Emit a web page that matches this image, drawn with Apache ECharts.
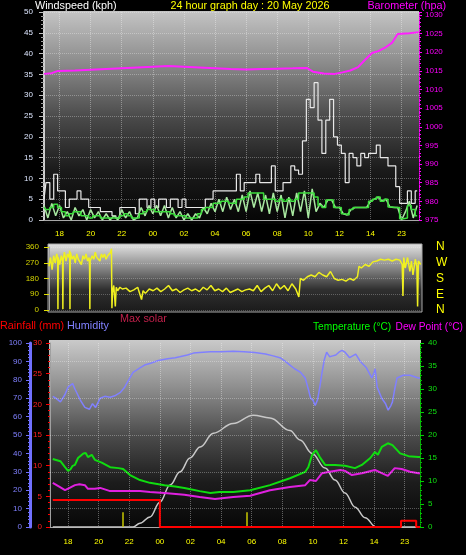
<!DOCTYPE html>
<html><head><meta charset="utf-8">
<script src="https://cdn.jsdelivr.net/npm/echarts@6/dist/echarts.min.js"></script>
<style>html,body{margin:0;padding:0;background:#000;}#c{width:466px;height:555px;}</style>
</head><body><div id="c"></div>
<script>
// ---------- tick labels ----------
const tickHours = [18,20,22,24,26,28,30,32,34,36,38,40];
const tickLabels = ['18','20','22','00','02','04','06','08','10','12','14','23'];
const compassLabels = ['N','E','S','W','N'];

// ---------- wind (kph), sampled every 15 min from 17:00 ----------
const windStart = 17, windStep = 0.25;
const gustValues = [5,9,5,11,7,7,3,5,5,7, 5,5,3,3,3,2,2,2,1,0.5, 3,3,3,3,1.5,5,5,3,5,3, 5,5,3,5,5,3,5,3,3,3,
  3,3,5,5,7,7,7,7,7,7, 11,7,9,9,9,11,9,9,9,13, 7,7,9,9,13,12,11,19,29,27, 33,24,16,24,29,20,18,16,9,16,
  15,13,16,15,16,16,18,15,15,13, 13,8,4,4,7,4,7];
const speedValues = [3.5,0.5,4,1,3.5,0.5,2,0,3,1, 2.5,0,2.5,0.5,2,0,1.5,0,1,0, 2.5,0.5,2,0,0.5,3,1,3.5,1.5,3.5,
  1,3.5,0.5,3,0.5,2,0,1.5,0,1.5, 0.5,3,1.5,4,2,5,2,5.5,2.5,5, 2,6,2,7,3,6.5,2,6,1.5,6.5, 2,6,0.5,5.5,1,6.5,2,7,0.5,7.5,
  2,4,3,4.8,4.8,3,3,1.5,1.2,2.5, 3,3,3,3,4.5,5,5.5,4.5,5,3.1, 3,3,0,2,4.5,0.5,3.5];
const avgValues = [3,2.5,3,3.8,3,2,1,1.5,2,2, 1,1,0.5,1,1,0.5,0.5,0.5,0.5,0.5, 1,1.5,1,0.5,0.5,1.5,2,2.5,2.5,2,
  2,2,2,1.5,1,1,1,0.5,0.5,0.5, 1.5,2.5,3,3,4,4,4.5,4.5,4,4, 5,5,5.5,6.5,6.5,6.5,6.5,5,5,5, 4.5,5,4.5,5,4.5,5,6.5,6.5,6.5,6.5,
  5.5,3.5,3,4.8,4.8,3,3,1.5,1.2,2.5, 3,3,3,3,4.5,5,5.5,4.5,5,3.1, 3,3,0.3,0.5,3.5,2.5,1];

// ---------- barometer (hpa) ----------
const baroTimes = [17.0,17.5,17.9,19,20,21,22,23,24,25,26,27,28,29,30,31,32,33,33.9,34.3,35,35.7,36.2,36.7,37.2,37.7,38.1,38.5,39.0,39.4,39.75,40.5,41.1];
const baroValues = [1014.2,1014.4,1015.0,1015.1,1015.3,1015.5,1015.7,1015.9,1016.1,1016.3,1016.1,1015.9,1015.7,1015.5,1015.4,1015.5,1015.6,1015.7,1015.8,1014.8,1014.3,1014.2,1014.6,1015.1,1016.0,1018.2,1019.8,1020.3,1021.4,1022.6,1024.9,1025.1,1025.4];

// ---------- wind direction (deg) ----------
const dirTimes = [17.0,17.1,17.2,17.3,17.4,17.5,17.56,17.58,17.6,17.7,17.8,17.88,17.9,17.92,18.0,18.1,18.2,18.3,18.34,18.36,18.38,18.5,18.6,18.7,18.8,18.9,
  19.0,19.1,19.2,19.3,19.4,19.5,19.6,19.63,19.65,19.67,19.8,19.9,20.0,20.1,20.2,20.3,20.4,20.5,20.6,20.7,20.8,20.9,21.0,21.05,21.08,21.12,21.2,21.3,21.36,21.45,21.6,21.75,
  22.0,22.25,22.5,22.75,23.0,23.1,23.25,23.5,23.75,24.0,24.25,24.5,24.75,25.0,25.25,25.5,25.75,26.0,26.25,26.5,26.75,27.0,27.25,27.5,27.75,28.0,28.25,28.5,28.75,
  29.0,29.25,29.5,29.75,30.0,30.25,30.5,30.75,31.0,31.25,31.5,31.75,32.0,32.25,32.5,32.75,33.0,33.2,33.3,33.5,33.75,34.0,34.25,34.5,34.75,35.0,35.25,35.5,35.75,
  36.0,36.25,36.5,36.75,37.0,37.1,37.25,37.5,37.75,38.0,38.25,38.5,38.75,39.0,39.25,39.5,39.75,39.9,39.95,40.0,40.1,40.25,40.4,40.5,40.6,40.75,40.85,40.9,40.95,41.1];
const dirValues = [250,300,230,310,270,320,300,5,300,260,310,280,5,290,330,280,320,300,340,5,330,290,310,270,320,290,
  300,260,310,290,320,280,300,250,5,280,310,290,330,300,310,280,320,300,320,290,310,300,330,350,10,100,140,20,130,110,130,120,
  125,105,115,130,60,110,95,120,110,125,105,120,140,110,120,100,115,125,110,120,105,130,115,140,110,120,105,125,100,
  110,120,105,115,120,110,140,105,125,140,110,150,120,140,110,150,120,75,180,170,190,200,190,215,200,190,220,180,170,
  175,165,180,170,190,250,240,260,250,275,280,290,285,290,280,290,285,260,80,300,240,300,220,280,200,290,250,20,280,260];

// ---------- humidity (%) ----------
const humTimes = [17.0,17.2,17.5,17.8,18.0,18.3,18.45,18.8,19.1,19.4,19.6,19.8,20.1,20.4,20.75,21.1,21.4,21.7,21.9,22.25,22.7,23.0,23.4,23.9,24.5,
  25.0,25.3,25.8,26.2,26.6,27.3,28.0,28.8,29.5,30.2,30.9,31.4,31.9,32.2,32.5,32.8,33.2,33.5,33.7,33.85,34.0,34.15,34.3,34.45,34.6,34.75,34.9,
  35.1,35.3,35.5,35.7,35.9,36.1,36.4,36.6,36.8,37.1,37.5,37.85,38.0,38.07,38.2,38.5,38.75,38.92,39.1,39.2,39.35,39.5,39.9,40.35,40.9,41.0];
const humValues = [71,70,68,72,76,78,75,69,65,64,67,65,70,71,70.5,71.5,73,76,79,84,86.5,88,89,90.5,91.5,
  92,92.5,93.5,94.5,94.8,95.2,95.3,95.5,95.3,94.8,94,93,91.8,90,88,86,84,81,75,70,69,66,69,76,84,91,95,
  92.5,93,93.5,95,96,95,92,93,94,90,86.5,81,84,86,76,70,67,63.5,66,68,75,81,82.5,82.5,81,81];

// ---------- temperature / dew point (°C) ----------
const tempTimes = [17.0,17.5,17.8,18.0,18.15,18.3,18.45,18.65,19.0,19.15,19.3,19.55,19.75,20.2,20.75,21.3,21.6,22.05,22.7,23.35,24.3,25.0,25.6,26.0,26.6,
  27.3,27.9,28.8,29.9,31.2,32.5,33.5,33.7,33.95,34.2,34.45,34.8,35.45,36.1,36.75,37.2,37.75,38.05,38.25,38.5,38.9,39.2,39.7,40.25,40.9,41.0];
const tempValues = [14.8,14.3,13,12.2,12.5,13.3,13.5,15,16,16.1,15.2,15.7,14.6,14.0,13,12.8,12.6,11.3,10.2,9.6,9.1,8.8,8.5,8.2,7.8,
  7.4,7.6,7.6,8,9.1,10.6,12,13,15.7,16.7,15.2,13.5,13.5,13.3,12.8,13.5,15,16.3,15.7,17.4,18.2,17.8,16,15.4,15.2,15.2];
const dewTimes = [17.0,17.45,17.8,18.1,18.45,18.75,19.1,19.3,19.75,20.1,20.75,21.4,22.7,23.35,24.3,25.6,26.6,27.6,28.8,29.9,
  31.2,32.5,33.5,33.8,34.2,34.6,35.1,35.8,36.1,36.55,37.2,38.05,38.5,38.9,39.35,39.8,40.35,40.9,41.0];
const dewValues = [9.6,8.7,8.0,8.5,9.1,9.3,9.1,8.3,8.3,8.5,7.8,7.8,7.8,7.6,7.4,7.0,6.5,6.1,6.5,6.8,
  8.0,8.7,9.1,10.2,10.0,11.7,12.0,12.4,12.2,11.3,11.7,12.4,11.7,11.1,12.8,12.6,12.0,11.7,11.7];

// ---------- max solar (W/m2) ----------
const solarTimes = [17.0,22.25,22.7,23.36,24.0,24.67,25.32,25.97,26.63,27.5,28.78,30.1,31.2,32.5,33.16,33.95,34.8,35.45,36.1,36.76,37.41,38.13,41.0];
const solarValues = [0,0,20,55,135,228,300,375,435,510,563,608,593,525,473,400,320,255,185,108,50,0,0];

// ---------- rainfall (mm) ----------
const rainTimes = [17.0,24.0,39.76,40.75,41.0];
const rainValues = [4.4,0,1.0,0,0];
const markerTimes = [21.6,29.7];
const markerHeights = [2.4,2.4];

const humGridLines = [10,30,50,70,90];

// ---------- build ----------
const zip = (t, v) => t.map((x, i) => [x, v[i]]);
const windTimes = gustValues.map((_, i) => windStart + i * windStep);
const fmtX = v => { const i = tickHours.findIndex(t => Math.abs(t - v) < 1e-6); return i >= 0 ? tickLabels[i] : ''; };
const FONT = '"Liberation Sans", Arial, sans-serif';
const grad = stops => ({type:'linear', x:0, y:0, x2:0, y2:1,
  colorStops: stops.map((c, i) => ({offset: i / (stops.length - 1), color: c}))});
const lbl = (color, extra) => Object.assign({color, fontSize: 8, fontFamily: FONT}, extra || {});
const txt = (x, y, text, fill, align, size) => ({type: 'text', x, y, z: 50,
  style: {text, fill, font: (size || 10.8) + 'px ' + FONT, textAlign: align, textVerticalAlign: 'middle'}});

const chart = echarts.init(document.getElementById('c'), null, {renderer: 'canvas'});
const option = {
  backgroundColor: '#000',
  animation: false,
  grid: [
    {left: 44, top: 12, width: 375, height: 208, outerBoundsMode: 'none'},
    {left: 49, top: 247, width: 372, height: 63, outerBoundsMode: 'none'},
    {left: 50, top: 343, width: 370, height: 184, outerBoundsMode: 'none'}
  ],
  xAxis: [
    {gridIndex: 0, type: 'value', min: 17, max: 41.12, offset: 4,
      axisLine: {show: true, lineStyle: {color: '#a8a8a8', width: 1}},
      axisTick: {show: false, customValues: tickHours},
      axisLabel: lbl('#ffff00', {customValues: tickHours, formatter: fmtX, margin: 6}),
      splitLine: {show: true, lineStyle: {color: 'rgba(255,255,255,0.35)', type: 'dotted'}}},
    {gridIndex: 1, type: 'value', min: 17, max: 41.12, show: false},
    {gridIndex: 2, type: 'value', min: 16.82, max: 41.0, offset: 3,
      axisLine: {show: true, lineStyle: {color: '#a8a8a8', width: 1}},
      axisTick: {show: false, customValues: tickHours},
      axisLabel: lbl('#ffff00', {customValues: tickHours, formatter: fmtX, margin: 8}),
      splitLine: {show: true, lineStyle: {color: 'rgba(255,255,255,0.35)', type: 'dotted'}}}
  ],
  yAxis: [
    {gridIndex: 0, type: 'value', min: 0, max: 50, interval: 5, position: 'left',
      axisLine: {show: true, lineStyle: {color: '#d0d0d0', width: 2}},
      axisTick: {show: true, length: 5, lineStyle: {color: '#c0c0c0'}},
      minorTick: {show: true, splitNumber: 5, length: 3, lineStyle: {color: '#a0a0a0'}},
      axisLabel: lbl('#dde6ff', {margin: 11}),
      splitLine: {show: true, lineStyle: {color: 'rgba(255,255,255,0.3)', type: 'dotted'}}},
    {gridIndex: 0, type: 'value', min: 975, max: 1030.8, interval: 5, position: 'right',
      axisLine: {show: true, lineStyle: {color: '#ff00ff', width: 1, type: 'dotted'}},
      axisTick: {show: true, length: 3, lineStyle: {color: '#ff00ff'}},
      minorTick: {show: true, splitNumber: 5, length: 2, lineStyle: {color: '#ff00ff'}},
      axisLabel: lbl('#ff00ff', {margin: 6, formatter: v => (Math.abs(v % 5) < 1e-6 ? String(v) : '')}),
      splitLine: {show: false}},
    {gridIndex: 1, type: 'value', min: 0, max: 360, interval: 90, position: 'left',
      axisLine: {show: true, lineStyle: {color: '#a0a0a0'}},
      axisTick: {show: true, length: 5, lineStyle: {color: '#e0e000'}},
      axisLabel: lbl('#d4d400', {margin: 10}),
      splitLine: {show: true, lineStyle: {color: 'rgba(255,255,255,0.25)', type: 'dotted'}}},
    {gridIndex: 2, type: 'value', min: 0, max: 30, interval: 5, position: 'left',
      axisLine: {show: true, lineStyle: {color: '#a0a0a0', width: 1}},
      axisTick: {show: true, length: 4, lineStyle: {color: '#ff0000'}},
      minorTick: {show: true, splitNumber: 5, length: 2, lineStyle: {color: '#ff0000'}},
      axisLabel: lbl('#ff2020', {margin: 8}),
      splitLine: {show: false}},
    {gridIndex: 2, type: 'value', min: 0, max: 100, interval: 10, position: 'left', offset: 20,
      axisLine: {show: true, lineStyle: {color: '#7070ff', width: 3}},
      axisTick: {show: true, length: 4, lineStyle: {color: '#7070ff'}},
      minorTick: {show: true, splitNumber: 5, length: 2, lineStyle: {color: '#7070ff'}},
      axisLabel: lbl('#8080ff', {margin: 8}),
      splitLine: {show: false}},
    {gridIndex: 2, type: 'value', min: 0, max: 40, interval: 5, position: 'right',
      axisLine: {show: true, lineStyle: {color: '#00c000', width: 1, type: 'dotted'}},
      axisTick: {show: true, length: 4, lineStyle: {color: '#00d000'}},
      minorTick: {show: true, splitNumber: 5, length: 2, lineStyle: {color: '#00c000'}},
      axisLabel: lbl('#10e010', {margin: 8}),
      splitLine: {show: false}},
    {gridIndex: 2, type: 'value', min: 0, max: 1000, show: false},
    {gridIndex: 1, type: 'value', min: 0, max: 360, interval: 90, position: 'right',
      axisLine: {show: false}, axisTick: {show: false}, splitLine: {show: false},
      axisLabel: {color: '#ffff00', fontSize: 12, fontFamily: FONT, margin: 15,
        formatter: v => compassLabels[Math.round(v / 90)] || ''}}
  ],
  series: [
    {type: 'line', name: 'gust', xAxisIndex: 0, yAxisIndex: 0, data: zip(windTimes, gustValues), step: 'middle',
      showSymbol: false, silent: true, z: 2, lineStyle: {color: '#e8e8e8', width: 1.2}},
    {type: 'line', name: 'speed', xAxisIndex: 0, yAxisIndex: 0, data: zip(windTimes, speedValues),
      showSymbol: false, silent: true, z: 3, lineStyle: {color: '#a8e8a0', width: 1.5}},
    {type: 'line', name: 'avg', xAxisIndex: 0, yAxisIndex: 0, data: zip(windTimes, avgValues), step: 'middle',
      showSymbol: false, silent: true, z: 4, lineStyle: {color: '#3cdc3c', width: 1.5}},
    {type: 'line', name: 'baro', xAxisIndex: 0, yAxisIndex: 1, data: zip(baroTimes, baroValues),
      showSymbol: false, silent: true, z: 5, lineStyle: {color: '#ff20ff', width: 2}},
    {type: 'line', name: 'dir', xAxisIndex: 1, yAxisIndex: 2, data: zip(dirTimes, dirValues),
      showSymbol: false, silent: true, z: 3, lineStyle: {color: '#f0f020', width: 1.5}},
    {type: 'line', name: 'solar', xAxisIndex: 2, yAxisIndex: 6, data: zip(solarTimes, solarValues),
      smooth: 0.4, smoothMonotone: 'x', showSymbol: false, silent: true, z: 2, lineStyle: {color: '#c8c8c8', width: 1.5}},
    {type: 'line', name: 'hum', xAxisIndex: 2, yAxisIndex: 4, data: zip(humTimes, humValues),
      showSymbol: false, silent: true, z: 3, lineStyle: {color: '#8080ff', width: 1.5},
      markLine: {silent: true, symbol: 'none', label: {show: false}, animation: false,
        lineStyle: {color: 'rgba(255,255,255,0.3)', type: 'dotted', width: 1},
        data: humGridLines.map(v => ({yAxis: v}))}},
    {type: 'line', name: 'temp', xAxisIndex: 2, yAxisIndex: 5, data: zip(tempTimes, tempValues),
      showSymbol: false, silent: true, z: 4, lineStyle: {color: '#10dc10', width: 2}},
    {type: 'line', name: 'dew', xAxisIndex: 2, yAxisIndex: 5, data: zip(dewTimes, dewValues),
      showSymbol: false, silent: true, z: 4, lineStyle: {color: '#e020e0', width: 2}},
    {type: 'line', name: 'rain', xAxisIndex: 2, yAxisIndex: 3, data: zip(rainTimes, rainValues), step: 'end',
      showSymbol: false, silent: true, z: 5, lineStyle: {color: '#ff0000', width: 2},
      markLine: {silent: true, symbol: 'none', label: {show: false}, animation: false,
        lineStyle: {color: '#c8c800', type: 'solid', width: 1.5},
        data: markerTimes.map((t, i) => [{coord: [t, 0]}, {coord: [t, markerHeights[i]]}])}}
  ],
  graphic: {elements: [
    {type: 'rect', z: -10, shape: {x: 44, y: 11, width: 375, height: 213},
      style: {fill: grad(['#c4c4c4', '#8a8a8a', '#4a4a4a', '#1a1a1a', '#050505'])}},
    {type: 'rect', z: -10, shape: {x: 48, y: 244, width: 374, height: 68},
      style: {fill: grad(['#e4e4e4', '#8c8c8c', '#303030', '#1a1a1a']), stroke: '#a8a8a8', lineWidth: 1}},
    {type: 'rect', z: -10, shape: {x: 49, y: 340, width: 372, height: 190},
      style: {fill: grad(['#cacaca', '#8e8e8e', '#4c4c4c', '#1c1c1c', '#060606'])}},
    txt(35, 6, 'Windspeed (kph)', '#ffffff', 'left'),
    txt(250, 6, '24 hour graph day : 20 May 2026', '#ffff00', 'center'),
    txt(446, 6, 'Barometer (hpa)', '#ff00ff', 'right'),
    txt(0, 326, 'Rainfall (mm)', '#ff0000', 'left'),
    txt(67, 326, 'Humidity', '#8080ff', 'left'),
    txt(120, 319, 'Max solar', '#c0204a', 'left'),
    txt(313, 327, 'Temperature (°C)', '#00ff00', 'left', 10.2),
    txt(463, 327, 'Dew Point (°C)', '#ff00ff', 'right', 10.2)
  ]}
};
chart.setOption(option);
</script>
</body></html>
